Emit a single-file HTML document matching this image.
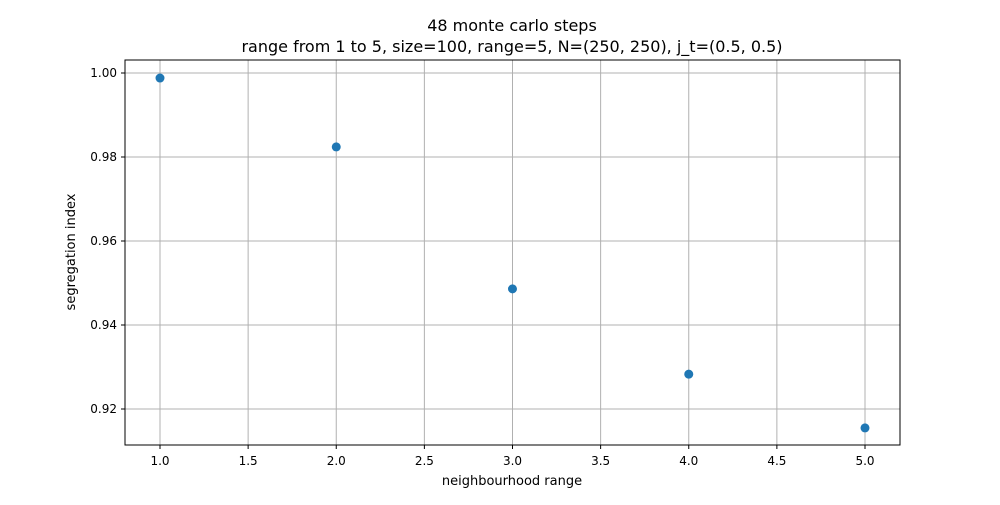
<!DOCTYPE html>
<html><head><meta charset="utf-8"><style>
body{margin:0;background:#fff;font-family:"Liberation Sans","DejaVu Sans",sans-serif}
</style></head><body>
<svg id="chart" width="1000" height="500" xmlns="http://www.w3.org/2000/svg" font-family="DejaVu Sans, Liberation Sans, sans-serif">
<text x="512" y="31" text-anchor="middle" font-size="16">48 monte carlo steps</text>
<text x="512" y="52" text-anchor="middle" font-size="16">range from 1 to 5, size=100, range=5, N=(250, 250), j_t=(0.5, 0.5)</text>
<g id="grid"></g>
<g id="ticks"></g>
<g id="points"></g>
<rect x="125" y="60" width="775" height="385" fill="none" stroke="#000" stroke-width="1"/>
<text x="512" y="485" text-anchor="middle" font-size="13">neighbourhood range</text>
<text transform="translate(75,252) rotate(-90)" text-anchor="middle" font-size="13">segregation index</text>
</svg>
<script>
const xValues = [1, 2, 3, 4, 5];
const yValues = [0.9988, 0.9824, 0.9486, 0.9283, 0.9155];
const xTicks = [1.0, 1.5, 2.0, 2.5, 3.0, 3.5, 4.0, 4.5, 5.0];
const yTicks = [0.92, 0.94, 0.96, 0.98, 1.00];
const NS = "http://www.w3.org/2000/svg";
function xs(v){return 160 + (v-1)*176.25;}
function ys(v){return 73 + (1-v)*4200;}
function mk(tag, attrs, parent){const e=document.createElementNS(NS,tag);for(const k in attrs)e.setAttribute(k,attrs[k]);parent.appendChild(e);return e;}
const grid=document.getElementById('grid'), ticks=document.getElementById('ticks'), pts=document.getElementById('points');
xTicks.forEach(t=>{
  const x=xs(t);
  const g=mk('line',{x1:x,x2:x,y1:60,y2:445,stroke:'#b0b0b0','stroke-width':1},grid);
  
  
  const tk=mk('line',{x1:x,x2:x,y1:445,y2:449,stroke:'#000'},ticks);
  
  
  const l=mk('text',{x:x,y:465,'text-anchor':'middle','font-size':12},ticks);
  l.textContent=t.toFixed(1);
  
  
});
yTicks.forEach(t=>{
  const y=ys(t);
  const g=mk('line',{x1:125,x2:900,y1:y,y2:y,stroke:'#b0b0b0','stroke-width':1},grid);
  
  
  const tk=mk('line',{x1:121,x2:125,y1:y,y2:y,stroke:'#000'},ticks);
  
  
  const l=mk('text',{x:117,y:y+4,'text-anchor':'end','font-size':12},ticks);
  l.textContent=t.toFixed(2);
  
  
});
xValues.forEach((v,i)=>{
  const c=mk('circle',{cx:xs(v),cy:ys(yValues[i]),r:4.5,fill:'#1f77b4'},pts);
  
  
});
</script>
</body></html>
